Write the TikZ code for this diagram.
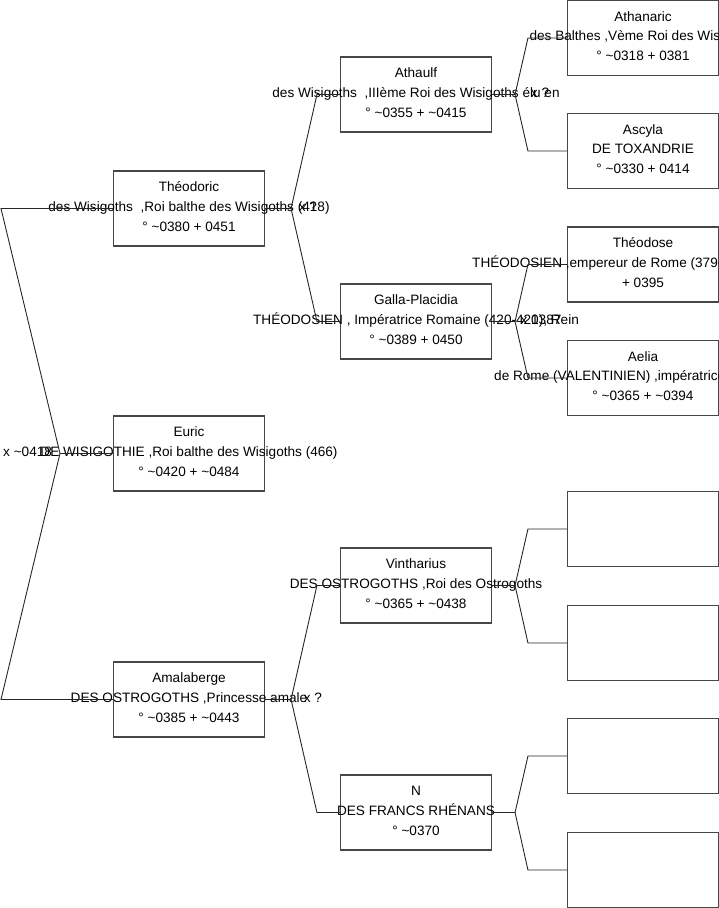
\documentclass[tikz,border=0pt]{standalone}
\usepackage{fontspec}
\setmainfont{Liberation Sans}
\newcommand{\persfont}{\fontsize{13.6}{16}\selectfont}
\newcommand{\person}[6]{%
  \node[box] (#1) at (#2,#3) {};
  \path (#1.center) ++(0,-17) node[txt] (#1-a) {#4};
  \path (#1.center) ++(0,2.5) node[txt] (#1-b) {#5};
  \path (#1.center) ++(0,22.5) node[txt] (#1-c) {#6};
}
\begin{document}
\begin{tikzpicture}[x=1pt,y=-1pt,
  box/.style={draw=black!72,line width=1.1pt,minimum width=151pt,minimum height=75pt,inner sep=0pt},
  txt/.style={anchor=base,inner sep=0pt,font=\persfont},
  wtxt/.style={anchor=base west,inner sep=0pt,font=\persfont},
  link/.style={draw=black!85,line width=0.9pt}]
\useasboundingbox (0,0) rectangle (719,908);

% generation 1
\person{theo}{189}{208.5}{Théodoric}{des Wisigoths\ \ ,Roi balthe des Wisigoths (418)}{° \textasciitilde0380 + 0451}
\person{euric}{189}{453.5}{Euric}{DE WISIGOTHIE ,Roi balthe des Wisigoths (466)}{° \textasciitilde0420 + \textasciitilde0484}
\person{amal}{189}{699.5}{Amalaberge}{DES OSTROGOTHS ,Princesse amale}{° \textasciitilde0385 + \textasciitilde0443}

% generation 2
\person{athaulf}{416}{94.5}{Athaulf}{des Wisigoths\ \ ,IIIème Roi des Wisigoths élu en}{° \textasciitilde0355 + \textasciitilde0415}
\person{galla}{416}{321.5}{Galla-Placidia}{THÉODOSIEN , Impératrice Romaine (420-421), Rein}{° \textasciitilde0389 + 0450}
\person{vinth}{416}{585.5}{Vintharius}{DES OSTROGOTHS ,Roi des Ostrogoths}{° \textasciitilde0365 + \textasciitilde0438}
\person{nn}{416}{812.5}{N}{DES FRANCS RHÉNANS}{° \textasciitilde0370}

% generation 3
\person{athan}{643}{38}{Athanaric}{des Balthes ,Vème Roi des Wisigoths}{° \textasciitilde0318 + 0381}
\person{ascyla}{643}{151}{Ascyla}{DE TOXANDRIE}{° \textasciitilde0330 + 0414}
\person{theodose}{643}{264.5}{Théodose}{}{+ 0395}
\node[wtxt] (theodose-w) at (472,267) {THÉODOSIEN ,empereur de Rome (379-395)};
\person{aelia}{643}{378}{Aelia}{}{° \textasciitilde0365 + \textasciitilde0394}
\node[wtxt] (aelia-w) at (494,380.5) {de Rome (VALENTINIEN) ,impératrice};
\node[box] (e1) at (643,529) {};
\node[box] (e2) at (643,643) {};
\node[box] (e3) at (643,756) {};
\node[box] (e4) at (643,870) {};

% marriage labels
\node[wtxt] (mroot) at (3,456) {x \textasciitilde0418};
\node[txt] (mtheo) at (308,211) {x ?};
\node[txt] (mathaulf) at (540,97) {x ?};
\node[txt] (mgalla) at (541,324) {x 0387};
\node[txt] (mamal) at (313,702) {x ?};

% root fork
\coordinate (rv) at (60,453.5);
\coordinate (ra) at (1,208.5);
\coordinate (rb) at (1,699.5);
\draw[link] (theo.west) -- (ra) -- (rv) -- (rb) -- (amal.west);
\draw[link] (rv) -- (euric.west);

% generation 1 forks
\draw[link] (theo.east) -- ++(26,0) coordinate (vt) -- ([xshift=-23pt]athaulf.west) -- (athaulf.west);
\draw[link] (vt) -- ([xshift=-23pt]galla.west) -- (galla.west);
\draw[link] (amal.east) -- ++(26,0) coordinate (va) -- ([xshift=-23pt]vinth.west) -- (vinth.west);
\draw[link] (va) -- ([xshift=-23pt]nn.west) -- (nn.west);

% generation 2 forks
\draw[link] (athaulf.east) -- ++(23,0) coordinate (vat) -- ([xshift=-39pt]athan.west) -- (athan.west);
\draw[link] (vat) -- ([xshift=-39pt]ascyla.west) -- (ascyla.west);
\draw[link] (galla.east) -- ++(23,0) coordinate (vg) -- ([xshift=-39pt]theodose.west) -- (theodose.west);
\draw[link] (vg) -- ([xshift=-39pt]aelia.west) -- (aelia.west);
\draw[link] (vinth.east) -- ++(23,0) coordinate (vv) -- ([xshift=-39pt]e1.west) -- (e1.west);
\draw[link] (vv) -- ([xshift=-39pt]e2.west) -- (e2.west);
\draw[link] (nn.east) -- ++(23,0) coordinate (vn) -- ([xshift=-39pt]e3.west) -- (e3.west);
\draw[link] (vn) -- ([xshift=-39pt]e4.west) -- (e4.west);
\end{tikzpicture}
\end{document}
